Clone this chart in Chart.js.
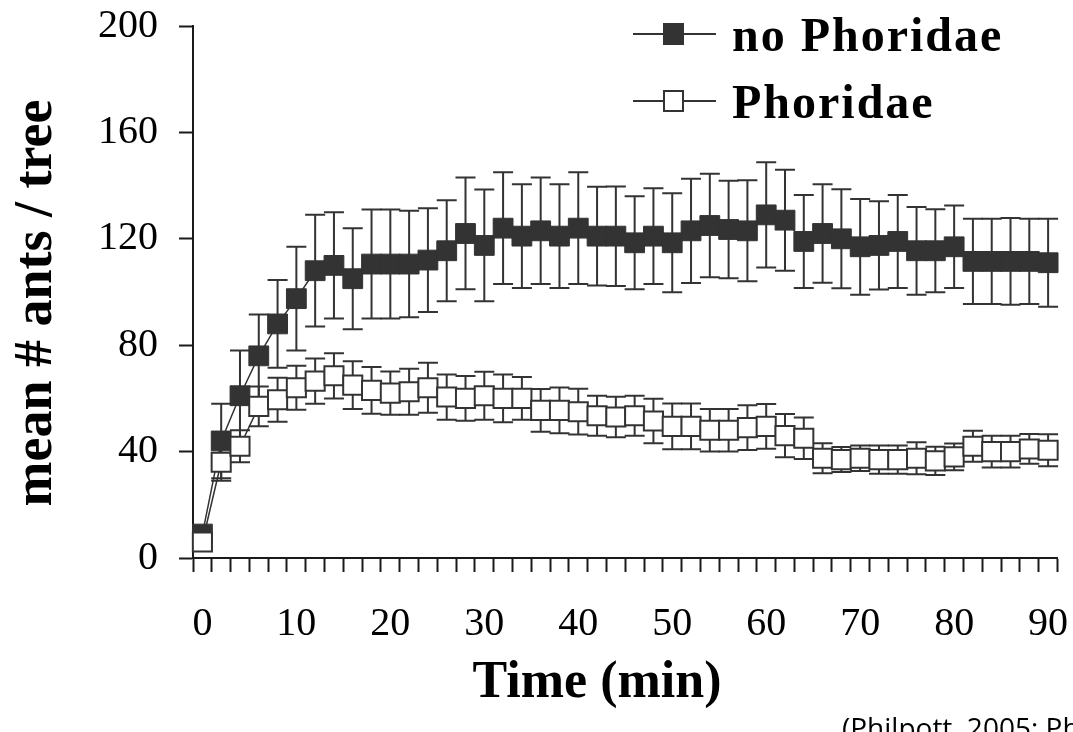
<!DOCTYPE html>
<html>
<head>
<meta charset="utf-8">
<script src="https://cdn.jsdelivr.net/npm/chart.js@4"></script>
<style>
  html, body { margin: 0; padding: 0; background: #fff; }
  #wrap { width: 1073px; height: 732px; position: relative; }
</style>
</head>
<body>
<div id="wrap"><canvas id="chart"></canvas></div>
<script>
// Time in minutes (one count every 2 min)
const times = [0, 2, 4, 6, 8, 10, 12, 14, 16, 18, 20, 22, 24, 26, 28, 30, 32, 34, 36, 38, 40, 42, 44,
  46, 48, 50, 52, 54, 56, 58, 60, 62, 64, 66, 68, 70, 72, 74, 76, 78, 80, 82, 84, 86, 88, 90];

// mean # ants / tree, no Phoridae (filled squares)
const noPhoridae = [9, 44, 61, 76, 88, 97.5, 108, 110, 105, 110.5, 110.5, 110.5, 112, 115.5, 122, 117.5,
  124, 121, 123, 121, 124, 121, 121, 118.5, 121, 118.5, 123, 125, 123.5, 123, 129, 127, 119, 122, 120,
  117, 117.5, 119, 115.5, 115.5, 117, 111.5, 111.5, 111.5, 111.5, 111];
const noPhoridaeErr = [2, 14, 17, 15.5, 16.5, 19.5, 21, 20, 19, 20.5, 20.5, 20, 19.5, 19, 21, 21,
  21, 19.5, 20, 19.5, 21, 18.6, 18.7, 17.5, 18, 18.6, 19.6, 19.5, 18.3, 19, 19.8, 19, 17.5, 18.5, 18.6,
  18, 16.6, 17.5, 16.5, 15.6, 15.5, 16, 16, 16.3, 16, 16.5];

// mean # ants / tree, Phoridae (open squares)
const phoridae = [6, 36, 42, 57, 59.5, 64, 66.5, 68.5, 65, 63, 62, 62.5, 64, 60.5, 60, 61, 60, 60,
  55.5, 55.5, 55, 53.5, 53, 53.5, 51.5, 49.5, 49.5, 48, 48, 49, 49.5, 46, 45, 37.5, 37, 37.5, 37, 37,
  37.5, 36.5, 38, 42, 40, 40, 41, 40.5];
const phoridaeErr = [2, 7, 6, 7.5, 8.3, 8.3, 8.5, 8.5, 9, 8.8, 8.1, 8.6, 9.4, 8.5, 8.4, 9, 9, 8,
  8, 8.6, 8.6, 7.5, 7.6, 7.5, 8.4, 8.6, 8.6, 8, 8, 8.4, 8.4, 8.1, 7.8, 5.6, 4.7, 4.8, 5.3, 5.3,
  6, 5.3, 5, 5.8, 6, 6, 5.6, 6];

const yTicks = [0, 40, 80, 120, 160, 200];
const xLabelEvery = 10;

const INK = '#333333';
const AXIS = '#1a1a1a';
const SERIF = "'Liberation Serif', 'Times New Roman', serif";

// error bars, drawn behind the markers
const errorBars = {
  id: 'errorBars',
  beforeDatasetsDraw(chart) {
    const ctx = chart.ctx;
    const xs = chart.scales.x, ys = chart.scales.y;
    ctx.save();
    ctx.strokeStyle = INK;
    ctx.lineWidth = 2;
    chart.data.datasets.forEach(ds => {
      ds.data.forEach((v, i) => {
        const x = xs.getPixelForValue(i);
        const top = ys.getPixelForValue(v + ds.errors[i]);
        const bot = ys.getPixelForValue(v - ds.errors[i]);
        ctx.beginPath();
        ctx.moveTo(x, top); ctx.lineTo(x, bot);
        ctx.moveTo(x - 10, top); ctx.lineTo(x + 10, top);
        ctx.moveTo(x - 10, bot); ctx.lineTo(x + 10, bot);
        ctx.stroke();
      });
    });
    ctx.restore();
  }
};

// legend, axis titles and source note
const decorations = {
  id: 'decorations',
  afterDraw(chart) {
    const ctx = chart.ctx;
    ctx.save();

    // legend
    const items = chart.data.datasets.slice().sort((a, b) => b.order - a.order);
    items.forEach((ds, k) => {
      const y = 34 + k * 67;
      ctx.strokeStyle = INK;
      ctx.lineWidth = 2;
      ctx.beginPath();
      ctx.moveTo(633, y); ctx.lineTo(716, y);
      ctx.stroke();
      ctx.fillStyle = ds.pointBackgroundColor;
      ctx.fillRect(664, y - 10, 19, 20);
      ctx.strokeRect(664, y - 10, 19, 20);
      ctx.fillStyle = '#000';
      ctx.font = 'bold 48px ' + SERIF;
      ctx.letterSpacing = '2px';
      ctx.textAlign = 'left';
      ctx.textBaseline = 'alphabetic';
      ctx.fillText(ds.label, 732, y + 17);
    });
    ctx.letterSpacing = '0px';

    // x title
    ctx.fillStyle = '#000';
    ctx.font = 'bold 52px ' + SERIF;
    ctx.textAlign = 'center';
    ctx.textBaseline = 'alphabetic';
    ctx.fillText('Time (min)', 597, 697);

    // y title
    ctx.save();
    ctx.translate(51, 303);
    ctx.rotate(-Math.PI / 2);
    ctx.font = 'bold 54px ' + SERIF;
    ctx.textAlign = 'center';
    ctx.textBaseline = 'alphabetic';
    ctx.fillText('mean # ants / tree', 0, 0);
    ctx.restore();

    // source
    ctx.font = "28px 'Open Sans', 'Noto Sans', sans-serif";
    ctx.textAlign = 'left';
    ctx.fillText('(Philpott, 2005; Ph', 842, 738);

    ctx.restore();
  }
};

new Chart(document.getElementById('chart'), {
  type: 'line',
  data: {
    labels: times,
    datasets: [
      {
        label: 'no Phoridae',
        data: noPhoridae,
        errors: noPhoridaeErr,
        order: 1,
        borderColor: INK,
        borderWidth: 1.5,
        pointStyle: 'rect',
        pointRadius: 14,
        pointBackgroundColor: INK,
        pointBorderColor: INK,
        pointBorderWidth: 1,
        tension: 0
      },
      {
        label: 'Phoridae',
        data: phoridae,
        errors: phoridaeErr,
        order: 0,
        borderColor: INK,
        borderWidth: 1.5,
        pointStyle: 'rect',
        pointRadius: 13.5,
        pointBackgroundColor: '#ffffff',
        pointBorderColor: INK,
        pointBorderWidth: 2,
        tension: 0
      }
    ]
  },
  options: {
    responsive: true,
    maintainAspectRatio: false,
    animation: false,
    layout: { padding: { top: 26, right: 11, bottom: 0, left: 0 } },
    plugins: {
      legend: { display: false },
      tooltip: { enabled: false }
    },
    scales: {
      x: {
        type: 'category',
        offset: true,
        grid: {
          offset: true,
          drawOnChartArea: false,
          tickLength: 14,
          tickWidth: 2,
          tickColor: AXIS
        },
        border: { display: true, color: AXIS, width: 2 },
        ticks: {
          autoSkip: false,
          maxRotation: 0,
          padding: 28,
          color: '#000',
          font: { family: SERIF, size: 40 },
          callback: (val, i) => (times[i] % xLabelEvery === 0 ? String(times[i]) : '')
        },
        afterFit(scale) {
          scale.height = 174;
          scale.paddingLeft = 0;
          scale.paddingRight = 0;
        }
      },
      y: {
        min: yTicks[0],
        max: yTicks[yTicks.length - 1],
        afterBuildTicks(scale) {
          scale.ticks = yTicks.map(v => ({ value: v }));
        },
        grid: {
          drawOnChartArea: false,
          tickLength: 14,
          tickWidth: 2,
          tickColor: AXIS
        },
        border: { display: true, color: AXIS, width: 2 },
        ticks: {
          padding: 21,
          color: '#000',
          font: { family: SERIF, size: 40 }
        },
        afterFit(scale) {
          scale.width = 193;
          scale.paddingTop = 0;
          scale.paddingBottom = 0;
        }
      }
    }
  },
  plugins: [errorBars, decorations]
});
</script>
</body>
</html>
